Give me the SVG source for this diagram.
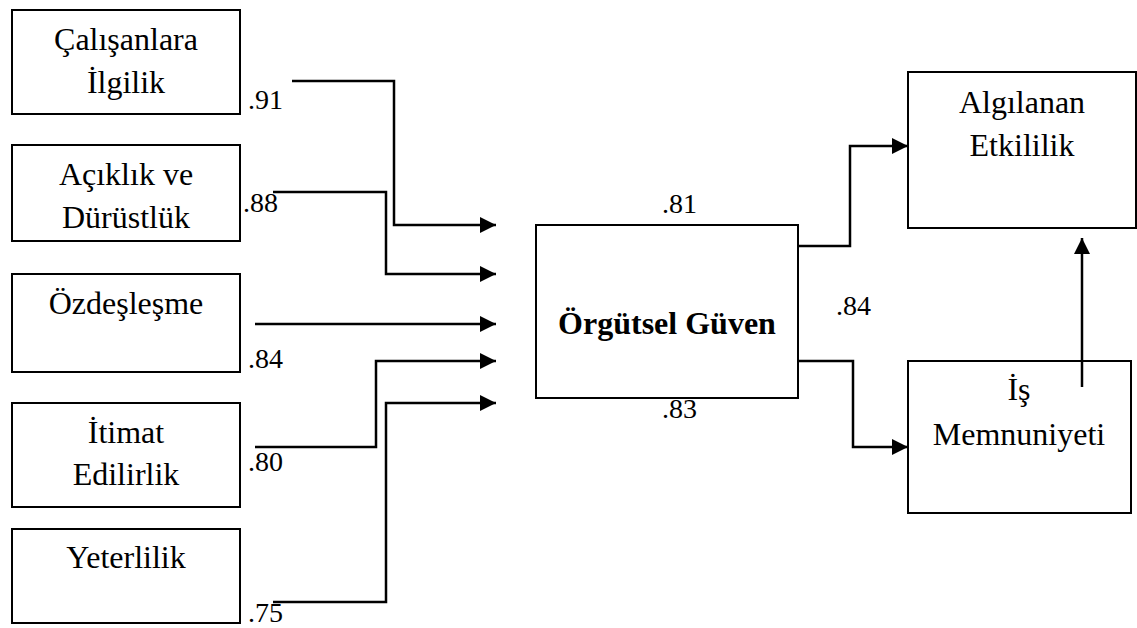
<svg xmlns="http://www.w3.org/2000/svg" width="1137" height="628" viewBox="0 0 1137 628">
<style>
.box{fill:#fff;stroke:#000;stroke-width:2}
.t{font-family:'Liberation Serif','DejaVu Serif',serif;font-size:32px;fill:#000;text-anchor:middle}
.b{font-weight:bold}
.n{font-family:'Liberation Serif','DejaVu Serif',serif;font-size:28px;fill:#000}
.c{fill:none;stroke:#000;stroke-width:2.5;marker-end:url(#ah)}
</style>
<defs>
<marker id="ah" markerUnits="userSpaceOnUse" markerWidth="16" markerHeight="16" refX="16" refY="8" orient="auto">
<path d="M0,0 L16,8 L0,16 Z" fill="#000"/>
</marker>
</defs>
<rect width="1137" height="628" fill="#fff"/>
<g id="n1"><rect class="box" x="12" y="10" width="228" height="104"/><text class="t" x="126" y="50">Çalışanlara</text><text class="t" x="126" y="93">İlgilik</text></g>
<g id="n2"><rect class="box" x="12" y="145" width="228" height="96"/><text class="t" x="126" y="185">Açıklık ve</text><text class="t" x="126" y="228">Dürüstlük</text></g>
<g id="n3"><rect class="box" x="12" y="274" width="228" height="98"/><text class="t" x="126" y="314">Özdeşleşme</text></g>
<g id="n4"><rect class="box" x="12" y="403" width="228" height="104"/><text class="t" x="126" y="443">İtimat</text><text class="t" x="126" y="485">Edilirlik</text></g>
<g id="n5"><rect class="box" x="12" y="529" width="228" height="94"/><text class="t" x="126" y="568">Yeterlilik</text></g>
<g id="n6"><rect class="box" x="536" y="225" width="262" height="173"/><text class="t b" x="667" y="334">Örgütsel Güven</text></g>
<g id="n7"><rect class="box" x="908" y="72" width="228" height="156"/><text class="t" x="1022" y="113">Algılanan</text><text class="t" x="1022" y="156">Etkililik</text></g>
<g id="n8"><rect class="box" x="908" y="361" width="223" height="152"/><text class="t" x="1019" y="400">İş</text><text class="t" x="1019" y="445">Memnuniyeti</text></g>
<g id="connectors">
<path class="c" d="M292,81 H394 V225 H496"/>
<path class="c" d="M273,192 H386 V274 H496"/>
<path class="c" d="M255,324 H496"/>
<path class="c" d="M255,447 H376 V361 H496"/>
<path class="c" d="M273,602 H386 V403 H496"/>
<path class="c" d="M798,246 H850 V146 H908"/>
<path class="c" d="M798,361 H853 V447 H908"/>
<path class="c" d="M1082,387 V238"/>
</g>
<g id="labels">
<text class="n" x="248" y="109">.91</text>
<text class="n" x="243" y="212">.88</text>
<text class="n" x="248" y="368">.84</text>
<text class="n" x="248" y="471">.80</text>
<text class="n" x="248" y="622">.75</text>
<text class="n" x="662" y="213">.81</text>
<text class="n" x="662" y="418">.83</text>
<text class="n" x="836" y="315">.84</text>
</g>
</svg>
